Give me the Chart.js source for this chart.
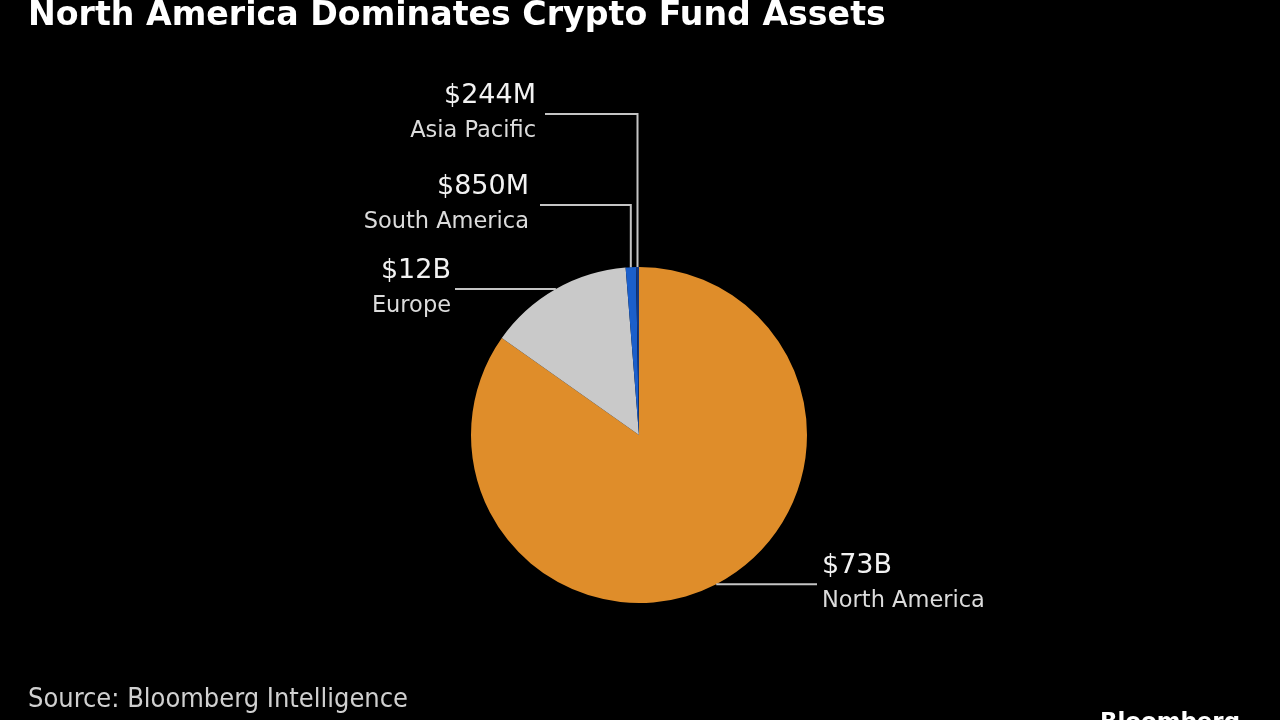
<!DOCTYPE html>
<html>
<head>
<meta charset="utf-8">
<script src="https://cdn.jsdelivr.net/npm/chart.js@4"></script>
<style>
  html, body { margin: 0; padding: 0; background: #000; }
  #wrap { width: 1280px; height: 720px; position: relative; overflow: hidden; }
</style>
</head>
<body>
<div id="wrap"><canvas id="c" width="1280" height="720"></canvas></div>
<script>
// ---- data ----
const categories = ["North America", "Europe", "South America", "Asia Pacific"];
const assetsBillions = [73, 12, 0.85, 0.244];
const valueLabels = ["$73B", "$12B", "$850M", "$244M"];

const titleText = "North America Dominates Crypto Fund Assets";
const sourceText = "Source: Bloomberg Intelligence";

// ---- styles / layout ----
const colors = ["#df8d2a", "#c9c9c9", "#1b5fcb", "#16387e"];
const leaderColor = "#c4c4c4";
// per-slice label layout: mode, elbowY (for vertical leaders), lineEndX, textX, align
const labelLayout = [
  { mode: "h", lineEndX: 817, textX: 822, align: "left" },
  { mode: "h", lineEndX: 455, textX: 451, align: "right" },
  { mode: "v", elbowY: 205, lineEndX: 540, textX: 529, align: "right" },
  { mode: "v", elbowY: 114, lineEndX: 545, textX: 536, align: "right" }
];

function fitFont(ctx, text, weight, family, targetWidth) {
  ctx.font = weight + " 100px " + family;
  const w = ctx.measureText(text).width;
  return weight + " " + (100 * targetWidth / w).toFixed(2) + "px " + family;
}

const labelPlugin = {
  id: "labels",
  beforeDraw(chart) {
    const ctx = chart.ctx;
    ctx.save();
    ctx.fillStyle = "#000";
    ctx.fillRect(0, 0, chart.width, chart.height);
    ctx.restore();
  },
  afterDraw(chart) {
    const ctx = chart.ctx;
    const meta = chart.getDatasetMeta(0);
    ctx.save();
    // title
    ctx.fillStyle = "#ffffff";
    ctx.textBaseline = "alphabetic";
    ctx.textAlign = "left";
    ctx.font = fitFont(ctx, titleText, "bold", "'DejaVu Sans'", 858);
    ctx.fillText(titleText, 28, 25);

    // source
    ctx.fillStyle = "#d0d0d0";
    ctx.font = fitFont(ctx, sourceText, "normal", "'DejaVu Sans Condensed', 'DejaVu Sans'", 380);
    ctx.fillText(sourceText, 28, 707);

    // Bloomberg logo (cut off at bottom)
    ctx.fillStyle = "#ffffff";
    ctx.font = fitFont(ctx, "Bloomberg", "bold", "'DejaVu Sans'", 140);
    ctx.fillText("Bloomberg", 1100, 729);

    // leaders & labels
    ctx.lineWidth = 2;
    ctx.strokeStyle = leaderColor;
    meta.data.forEach((arc, i) => {
      const L = labelLayout[i];
      const mid = (arc.startAngle + arc.endAngle) / 2;
      const ax = arc.x + Math.cos(mid) * arc.outerRadius;
      const ay = arc.y + Math.sin(mid) * arc.outerRadius;
      let lineY;
      ctx.beginPath();
      if (L.mode === "v") {
        lineY = L.elbowY;
        ctx.moveTo(ax, ay);
        ctx.lineTo(ax, lineY);
        ctx.lineTo(L.lineEndX, lineY);
      } else {
        lineY = ay;
        ctx.moveTo(ax, ay);
        ctx.lineTo(L.lineEndX, lineY);
      }
      ctx.stroke();

      ctx.textAlign = L.align;
      ctx.textBaseline = "middle";
      ctx.fillStyle = "#f2f2f2";
      ctx.font = "27px 'DejaVu Sans'";
      ctx.fillText(valueLabels[i], L.textX, lineY - 18);
      ctx.fillStyle = "#dcdcdc";
      ctx.font = "22.5px 'DejaVu Sans'";
      ctx.fillText(categories[i], L.textX, lineY + 17);
    });
    ctx.restore();
  }
};

new Chart(document.getElementById("c"), {
  type: "pie",
  data: {
    labels: categories,
    datasets: [{
      data: assetsBillions,
      backgroundColor: colors,
      borderWidth: 0
    }]
  },
  options: {
    responsive: false,
    animation: false,
    devicePixelRatio: 1,
    layout: { padding: { top: 267, bottom: 117, left: 471, right: 473 } },
    plugins: {
      legend: { display: false },
      tooltip: { enabled: false },
      title: { display: false }
    }
  },
  plugins: [labelPlugin]
});
</script>
</body>
</html>
